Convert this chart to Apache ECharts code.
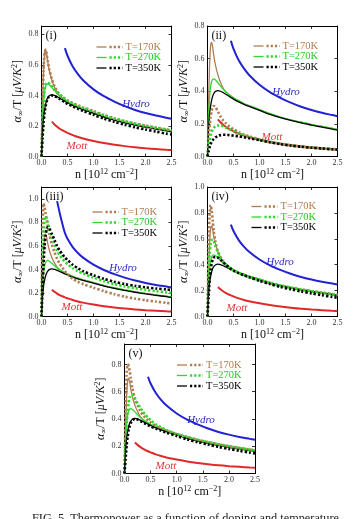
<!DOCTYPE html>
<html><head><meta charset="utf-8">
<script src="https://cdn.jsdelivr.net/npm/echarts@6/dist/echarts.min.js"></script>
<style>html,body{margin:0;padding:0;background:#fff;}#c{width:357px;height:519px;}</style>
</head><body><div id="c"></div>
<script>
// ---------- DATA ----------
const N = [0, 0.02, 0.04, 0.06, 0.08, 0.1, 0.12, 0.15, 0.2, 0.25, 0.3, 0.35, 0.4, 0.45, 0.5, 0.6, 0.7, 0.8, 1.0, 1.2, 1.4, 1.6, 1.8, 2.0, 2.2, 2.4, 2.5];
const xTicks = [0, 0.5, 1.0, 1.5, 2.0, 2.5];
const panelNames = ['(i)', '(ii)', '(iii)', '(iv)', '(v)'];
const legendLabels = ['T=170K', 'T=270K', 'T=350K'];
const yMax = [0.855, 0.8, 1.1, 1.0, 0.95];
const hydroStart = [0.45, 0.45, 0.3, 0.45, 0.45];

const solid170 = [0, 0.32, 0.56, 0.68, 0.70, 0.67, 0.62, 0.565, 0.50, 0.455, 0.42, 0.397, 0.383, 0.371, 0.36, 0.341, 0.325, 0.312, 0.288, 0.263, 0.242, 0.225, 0.21, 0.196, 0.184, 0.172, 0.166];
const solid270 = [0, 0.23, 0.36, 0.43, 0.46, 0.473, 0.476, 0.47, 0.452, 0.432, 0.413, 0.397, 0.383, 0.371, 0.36, 0.341, 0.325, 0.312, 0.288, 0.263, 0.242, 0.225, 0.21, 0.196, 0.184, 0.172, 0.166];
const solid350 = [0, 0.17, 0.26, 0.31, 0.345, 0.37, 0.385, 0.398, 0.404, 0.4, 0.392, 0.382, 0.372, 0.362, 0.352, 0.335, 0.32, 0.307, 0.283, 0.258, 0.238, 0.221, 0.206, 0.192, 0.18, 0.168, 0.162];
const hydro = [null, null, null, null, null, null, null, null, null, null, 0.98, 0.88, 0.79, 0.71, 0.66, 0.59, 0.54, 0.50, 0.44, 0.395, 0.36, 0.33, 0.305, 0.285, 0.268, 0.254, 0.247];
const mott = [null, null, null, null, null, null, null, null, 0.228, 0.21, 0.195, 0.182, 0.172, 0.163, 0.155, 0.14, 0.128, 0.118, 0.102, 0.088, 0.077, 0.068, 0.06, 0.054, 0.049, 0.044, 0.042];

const dot170_i = [0, 0.32, 0.56, 0.68, 0.70, 0.67, 0.625, 0.57, 0.505, 0.46, 0.43, 0.408, 0.392, 0.38, 0.368, 0.35, 0.335, 0.322, 0.298, 0.272, 0.25, 0.232, 0.216, 0.202, 0.189, 0.177, 0.171];
const dot270_i = [0, 0.22, 0.36, 0.44, 0.47, 0.482, 0.485, 0.478, 0.458, 0.437, 0.418, 0.402, 0.388, 0.376, 0.365, 0.346, 0.33, 0.317, 0.293, 0.268, 0.247, 0.23, 0.215, 0.201, 0.189, 0.177, 0.171];
const dot350_i = [0, 0.12, 0.22, 0.29, 0.33, 0.36, 0.38, 0.395, 0.40, 0.396, 0.387, 0.377, 0.366, 0.355, 0.345, 0.328, 0.312, 0.298, 0.273, 0.248, 0.227, 0.208, 0.191, 0.177, 0.163, 0.15, 0.144];

const dot170_ii = [0, 0.1, 0.18, 0.24, 0.28, 0.3, 0.31, 0.305, 0.275, 0.245, 0.222, 0.205, 0.19, 0.178, 0.167, 0.149, 0.135, 0.124, 0.106, 0.091, 0.079, 0.07, 0.062, 0.056, 0.05, 0.046, 0.044];
const dot270_ii = [0, 0.06, 0.1, 0.13, 0.15, 0.165, 0.175, 0.185, 0.19, 0.19, 0.185, 0.178, 0.17, 0.162, 0.155, 0.141, 0.129, 0.119, 0.103, 0.089, 0.078, 0.069, 0.061, 0.055, 0.05, 0.045, 0.043];
const dot350_ii = [0, 0.03, 0.055, 0.075, 0.09, 0.1, 0.108, 0.117, 0.126, 0.131, 0.133, 0.133, 0.132, 0.13, 0.128, 0.124, 0.118, 0.112, 0.1, 0.087, 0.076, 0.067, 0.06, 0.054, 0.049, 0.044, 0.042];

const dot170_iii = [0, 0.75, 0.96, 0.93, 0.87, 0.82, 0.77, 0.70, 0.61, 0.545, 0.49, 0.45, 0.415, 0.385, 0.36, 0.32, 0.295, 0.275, 0.245, 0.215, 0.19, 0.168, 0.152, 0.138, 0.127, 0.116, 0.111];
const dot270_iii = [0, 0.45, 0.7, 0.82, 0.85, 0.83, 0.8, 0.75, 0.67, 0.61, 0.56, 0.52, 0.49, 0.465, 0.445, 0.41, 0.385, 0.365, 0.33, 0.3, 0.275, 0.255, 0.24, 0.227, 0.215, 0.205, 0.2];
const dot350_iii = [0, 0.25, 0.45, 0.6, 0.69, 0.74, 0.76, 0.75, 0.7, 0.65, 0.6, 0.56, 0.53, 0.5, 0.48, 0.44, 0.41, 0.385, 0.35, 0.32, 0.295, 0.275, 0.26, 0.248, 0.238, 0.23, 0.225];

const dot170_iv = [0, 0.5, 0.78, 0.86, 0.82, 0.74, 0.66, 0.58, 0.5, 0.45, 0.42, 0.4, 0.38, 0.365, 0.355, 0.335, 0.32, 0.305, 0.28, 0.258, 0.24, 0.224, 0.21, 0.197, 0.185, 0.174, 0.168];
const dot270_iv = [0, 0.3, 0.48, 0.56, 0.59, 0.595, 0.58, 0.545, 0.5, 0.46, 0.43, 0.405, 0.385, 0.37, 0.357, 0.337, 0.322, 0.307, 0.283, 0.26, 0.24, 0.223, 0.208, 0.195, 0.183, 0.172, 0.167];
const dot350_iv = [0, 0.15, 0.28, 0.36, 0.41, 0.44, 0.455, 0.46, 0.455, 0.44, 0.42, 0.4, 0.385, 0.37, 0.355, 0.335, 0.318, 0.303, 0.275, 0.25, 0.228, 0.21, 0.193, 0.178, 0.164, 0.151, 0.145];

const dot170_v = [0, 0.45, 0.72, 0.8, 0.79, 0.75, 0.7, 0.63, 0.55, 0.5, 0.46, 0.43, 0.41, 0.39, 0.375, 0.35, 0.33, 0.315, 0.29, 0.268, 0.248, 0.23, 0.215, 0.2, 0.188, 0.176, 0.17];
const dot270_v = [0, 0.2, 0.35, 0.45, 0.52, 0.56, 0.575, 0.575, 0.55, 0.515, 0.485, 0.455, 0.43, 0.41, 0.39, 0.36, 0.34, 0.32, 0.29, 0.267, 0.247, 0.23, 0.214, 0.2, 0.187, 0.175, 0.17];
const dot350_v = [0, 0.1, 0.2, 0.27, 0.32, 0.35, 0.37, 0.39, 0.4, 0.395, 0.385, 0.375, 0.365, 0.355, 0.345, 0.33, 0.315, 0.3, 0.275, 0.25, 0.23, 0.212, 0.195, 0.18, 0.166, 0.153, 0.147];

const dotted = [
  [dot170_i, dot270_i, dot350_i],
  [dot170_ii, dot270_ii, dot350_ii],
  [dot170_iii, dot270_iii, dot350_iii],
  [dot170_iv, dot270_iv, dot350_iv],
  [dot170_v, dot270_v, dot350_v]
];
const solids = [solid170, solid270, solid350];

// ---------- LAYOUT / STYLE ----------
const SERIF = '"Liberation Serif", "DejaVu Serif", serif';
const tempColors = ['#b07c52', '#2fd82f', '#000000'];
const blue = '#2222d2', red = '#e02a2a';
const layout = [
  {left: 41.5, top: 26, w: 130, h: 130.5, legTop: 47, legRight: 5, hydroPos: [136, 104], mottPos: [77, 146]},
  {left: 207.5, top: 26, w: 130, h: 130.5, legTop: 46, legRight: 14, hydroPos: [286, 92], mottPos: [272, 137]},
  {left: 41.5, top: 187, w: 130, h: 129.5, legTop: 212, legRight: 9, hydroPos: [123, 268], mottPos: [72, 307]},
  {left: 207.5, top: 187, w: 130, h: 129.5, legTop: 206.5, legRight: 16, hydroPos: [280, 262], mottPos: [237, 308]},
  {left: 124.5, top: 344, w: 130.5, h: 129.5, legTop: 365, legRight: 8, hydroPos: [201, 420], mottPos: [166, 466]}
];

function pairs(vals, minN) {
  const out = [];
  for (let i = 0; i < N.length; i++) {
    if (vals[i] == null) continue;
    if (minN != null && N[i] < minN - 1e-9) continue;
    out.push([N[i], vals[i]]);
  }
  return out;
}
function isMult(v, step) { const r = v / step; return Math.abs(r - Math.round(r)) < 1e-6; }

const grids = [], xAxes = [], yAxes = [], series = [], graphics = [];
const tickLabel = {fontFamily: SERIF, fontSize: 8, color: '#333'};

layout.forEach((L, p) => {
  grids.push({left: L.left, top: L.top, width: L.w, height: L.h, containLabel: false, outerBoundsMode: 'none', show: false});
  const axLine = {show: true, onZero: false, lineStyle: {color: '#000', width: 1}};
  const tick = {show: true, inside: true, length: 3, lineStyle: {color: '#000', width: 0.8}};
  xAxes.push({
    gridIndex: p, type: 'value', min: 0, max: 2.5, interval: 0.5, position: 'bottom',
    axisLine: axLine, axisTick: tick, splitLine: {show: false},
    axisLabel: Object.assign({margin: 2.5, formatter: v => (isMult(v, 0.5) ? v.toFixed(1) : '')}, tickLabel),
    name: 'n [10{sup|12} cm{sup|−2}]', nameLocation: 'middle', nameGap: 11,
    nameTextStyle: {fontFamily: SERIF, fontSize: 12, color: '#111', lineHeight: 14,
      rich: {sup: {fontFamily: SERIF, fontSize: 8, verticalAlign: 'top', lineHeight: 14, color: '#111'}}}
  });
  xAxes.push({
    gridIndex: p, type: 'value', min: 0, max: 2.5, interval: 0.5, position: 'top',
    axisLine: axLine, axisTick: tick, splitLine: {show: false}, axisLabel: {show: false}
  });
  yAxes.push({
    gridIndex: p, type: 'value', min: 0, max: yMax[p], interval: 0.2, position: 'left',
    axisLine: axLine, axisTick: tick, splitLine: {show: false},
    axisLabel: Object.assign({margin: 3, formatter: v => (isMult(v, 0.2) ? v.toFixed(1) : '')}, tickLabel),
    name: '{it|α}{sub|∞}/T [{it|μV/K}{sup|2}]', nameLocation: 'middle', nameGap: 15,
    nameTextStyle: {fontFamily: SERIF, fontSize: 12, color: '#111', lineHeight: 14,
      rich: {
        it: {fontFamily: SERIF, fontSize: 12, fontStyle: 'italic', color: '#111', lineHeight: 14},
        sub: {fontFamily: SERIF, fontSize: 8, verticalAlign: 'bottom', lineHeight: 14, color: '#111'},
        sup: {fontFamily: SERIF, fontSize: 8, verticalAlign: 'top', lineHeight: 14, color: '#111'}
      }}
  });
  yAxes.push({
    gridIndex: p, type: 'value', min: 0, max: yMax[p], interval: 0.2, position: 'right',
    axisLine: axLine, axisTick: tick, splitLine: {show: false}, axisLabel: {show: false}
  });
  const xi = 2 * p, yi = 2 * p;
  series.push({type: 'line', xAxisIndex: xi, yAxisIndex: yi, data: pairs(hydro, hydroStart[p]), showSymbol: false, smooth: 0.3,
    lineStyle: {color: blue, width: 2}, z: 2, silent: true});
  series.push({type: 'line', xAxisIndex: xi, yAxisIndex: yi, data: pairs(mott), showSymbol: false, smooth: 0.3,
    lineStyle: {color: red, width: 2}, z: 2, silent: true});
  solids.forEach((s, k) => {
    series.push({type: 'line', xAxisIndex: xi, yAxisIndex: yi, data: pairs(s), showSymbol: false, smooth: 0.25,
      lineStyle: {color: tempColors[k], width: 1.3}, z: 3, silent: true});
  });
  dotted[p].forEach((s, k) => {
    series.push({type: 'line', xAxisIndex: xi, yAxisIndex: yi, data: pairs(s), showSymbol: false, smooth: 0.25,
      lineStyle: {color: tempColors[k], width: 2.6, type: [2.2, 2], cap: 'butt'}, z: 4, silent: true});
  });

  // panel label
  graphics.push({type: 'text', silent: true, style: {text: panelNames[p], x: L.left + 4, y: L.top + 10,
    font: '12px ' + SERIF, fill: '#111', verticalAlign: 'middle', align: 'left'}});
  // Hydro / Mott labels
  graphics.push({type: 'text', silent: true, style: {text: 'Hydro', x: L.hydroPos[0], y: L.hydroPos[1],
    font: 'italic 11px ' + SERIF, fill: '#2b2bc0', verticalAlign: 'middle', align: 'center'}});
  graphics.push({type: 'text', silent: true, style: {text: 'Mott', x: L.mottPos[0], y: L.mottPos[1],
    font: 'italic 11px ' + SERIF, fill: '#d83a3a', verticalAlign: 'middle', align: 'center'}});
  // legend
  const R = L.left + L.w;
  const textLeft = R - L.legRight - 41;
  legendLabels.forEach((lab, k) => {
    const y = L.legTop + k * 10.5;
    graphics.push({type: 'line', silent: true, shape: {x1: textLeft - 29, y1: y, x2: textLeft - 19, y2: y},
      style: {stroke: tempColors[k], lineWidth: 1.3}});
    graphics.push({type: 'line', silent: true, shape: {x1: textLeft - 16, y1: y, x2: textLeft - 3, y2: y},
      style: {stroke: tempColors[k], lineWidth: 2.6, lineDash: [2.2, 2]}});
    graphics.push({type: 'text', silent: true, style: {text: lab, x: textLeft, y: y,
      font: '10.5px ' + SERIF, fill: k === 1 ? '#22cc22' : tempColors[k], verticalAlign: 'middle', align: 'left'}});
  });
});

graphics.push({type: 'text', silent: true, style: {text: 'FIG. 5. Thermopower as a function of doping and temperature',
  x: 32, y: 525, font: '12.3px ' + SERIF, fill: '#222', verticalAlign: 'bottom', align: 'left'}});

const chart = echarts.init(document.getElementById('c'), null, {renderer: 'canvas'});
chart.setOption({
  animation: false,
  backgroundColor: '#fff',
  grid: grids, xAxis: xAxes, yAxis: yAxes, series: series,
  graphic: {elements: graphics}
});
</script>
</body></html>
